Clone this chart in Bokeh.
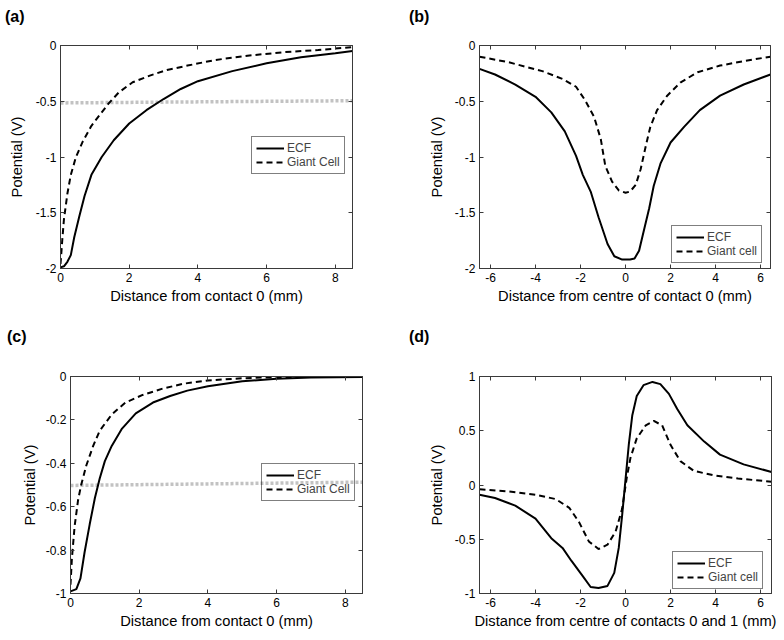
from bokeh.plotting import figure
from bokeh.layouts import column, row
from bokeh.models import (Range1d, LinearAxis, Legend, LegendItem, Div,
                          FixedTicker)
from bokeh.embed import file_html
from bokeh.resources import INLINE

# ---------------- data ----------------
# (a) distance from contact 0
a_ecf_x = [0, 0.1, 0.2, 0.3, 0.4, 0.55, 0.7, 0.9, 1.2, 1.55, 2.0, 2.5, 3.0, 3.5,
           4.0, 5.0, 6.0, 7.0, 8.0, 8.5]
a_ecf_y = [-1.99, -1.98, -1.94, -1.88, -1.72, -1.53, -1.35, -1.16, -1.0, -0.85,
           -0.70, -0.58, -0.48, -0.39, -0.32, -0.23, -0.16, -0.105, -0.07, -0.05]
a_gc_x = [0, 0.02, 0.05, 0.1, 0.2, 0.3, 0.45, 0.65, 0.9, 1.2, 1.4, 1.7, 2.1, 2.6,
          3.1, 3.7, 4.5, 5.5, 6.5, 7.5, 8.5]
a_gc_y = [-1.96, -1.88, -1.75, -1.56, -1.33, -1.16, -1.0, -0.86, -0.72, -0.60,
          -0.52, -0.42, -0.33, -0.27, -0.22, -0.18, -0.13, -0.09, -0.06, -0.04,
          -0.015]
a_ref_x = [0, 8.5]
a_ref_y = [-0.515, -0.495]

# (b) distance from centre of contact 0
b_ecf_x = [-6.49, -5.8, -4.9, -4.0, -3.3, -2.7, -2.2, -1.9, -1.55, -1.2, -0.8,
           -0.5, -0.15, 0.2, 0.4, 0.6, 0.8, 1.05, 1.25, 1.55, 2.0, 2.6, 3.3, 4.2,
           5.25, 6.44]
b_ecf_y = [-0.21, -0.26, -0.35, -0.46, -0.60, -0.77, -0.99, -1.16, -1.31, -1.54,
           -1.78, -1.89, -1.92, -1.92, -1.91, -1.84, -1.67, -1.46, -1.26, -1.06,
           -0.87, -0.73, -0.58, -0.45, -0.35, -0.26]
b_gc_x = [-6.49, -5.2, -3.7, -2.8, -2.2, -1.8, -1.4, -1.1, -0.9, -0.6, -0.3, 0,
          0.2, 0.45, 0.67, 0.9, 1.1, 1.4, 1.85, 2.45, 3.2, 4.2, 5.25, 6.44]
b_gc_y = [-0.10, -0.15, -0.23, -0.30, -0.37, -0.49, -0.64, -0.84, -1.08, -1.22,
          -1.30, -1.32, -1.31, -1.25, -1.11, -0.90, -0.73, -0.58, -0.45, -0.33,
          -0.24, -0.18, -0.14, -0.10]

# (c) distance from contact 0
c_ecf_x = [0, 0.17, 0.29, 0.41, 0.56, 0.71, 0.85, 1.0, 1.2, 1.5, 1.9, 2.4, 2.9,
           3.4, 4.0, 5.0, 6.0, 7.0, 8.5]
c_ecf_y = [-0.99, -0.98, -0.93, -0.81, -0.68, -0.56, -0.47, -0.39, -0.32, -0.24,
           -0.17, -0.12, -0.09, -0.065, -0.045, -0.022, -0.01, -0.005, -0.002]
c_gc_x = [0, 0.04, 0.12, 0.22, 0.31, 0.46, 0.66, 0.85, 1.2, 1.6, 2.1, 2.7, 3.3,
          4.0, 5.0, 6.0, 8.5]
c_gc_y = [-0.96, -0.84, -0.69, -0.57, -0.50, -0.41, -0.32, -0.25, -0.175, -0.12,
          -0.085, -0.055, -0.033, -0.018, -0.008, -0.003, 0]
c_ref_x = [0, 8.5]
c_ref_y = [-0.502, -0.487]

# (d) distance from centre of contacts 0 and 1
d_ecf_x = [-6.49, -5.8, -4.9, -4.0, -3.3, -2.8, -2.4, -1.9, -1.55, -1.2, -0.8,
           -0.5, -0.3, -0.15, 0, 0.15, 0.3, 0.5, 0.8, 1.2, 1.55, 1.93, 2.3,
           2.75, 3.5, 4.2, 5.25, 6.49]
d_ecf_y = [-0.09, -0.12, -0.19, -0.31, -0.49, -0.58, -0.70, -0.84, -0.94, -0.95,
           -0.93, -0.81, -0.58, -0.28, 0.05, 0.38, 0.64, 0.82, 0.92, 0.95, 0.93,
           0.84, 0.70, 0.55, 0.40, 0.28, 0.19, 0.12]
d_gc_x = [-6.49, -5.2, -4.0, -3.1, -2.5, -2.07, -1.63, -1.2, -0.8, -0.44, -0.15,
          0.05, 0.22, 0.5, 0.9, 1.26, 1.63, 2.0, 2.44, 3.04, 3.9, 5.0, 6.49]
d_gc_y = [-0.04, -0.06, -0.09, -0.13, -0.21, -0.34, -0.52, -0.59, -0.55, -0.43,
          -0.22, 0.06, 0.25, 0.43, 0.55, 0.59, 0.55, 0.37, 0.22, 0.13, 0.09,
          0.06, 0.03]

ticks_x_dist = [0, 2, 4, 6, 8]
ticks_x_dist_labels = ["0", "2", "4", "6", "8"]
ticks_x_centre = [-6, -4, -2, 0, 2, 4, 6]
ticks_x_centre_labels = ["-6", "-4", "-2", "0", "2", "4", "6"]
ticks_y_ab = [-2, -1.5, -1, -0.5, 0]
ticks_y_ab_labels = ["-2", "-1.5", "-1", "-0.5", "0"]
ticks_y_c = [-1, -0.8, -0.6, -0.4, -0.2, 0]
ticks_y_c_labels = ["-1", "-0.8", "-0.6", "-0.4", "-0.2", "0"]
ticks_y_d = [-1, -0.5, 0, 0.5, 1]
ticks_y_d_labels = ["-1", "-0.5", "0", "0.5", "1"]

FONT = "Liberation Sans"
AX = "#3a3a3a"
TAG_H = 26


def make_tag(tag, left):
    html = ('<div style="padding:8px 0 0 %dpx;font-family:\'Liberation Sans\','
            'Arial,sans-serif;font-size:16px;font-weight:bold;'
            'line-height:18px;color:black;">%s</div>' % (left, tag))
    return Div(text=html, width=392, height=TAG_H, margin=0)


def make_panel(xr, yr, xt, xtl, yt, ytl, xlabel, borders, leg_loc,
               ecf, gc, gc_label, ref=None, ylab_standoff=8):
    left, right, top, bottom = borders
    p = figure(width=392, height=320 - TAG_H, output_backend="svg",
               toolbar_location=None, x_range=Range1d(*xr),
               y_range=Range1d(*yr), min_border_left=left,
               min_border_right=right, min_border_top=top - TAG_H,
               min_border_bottom=bottom, margin=0)
    p.xgrid.visible = False
    p.ygrid.visible = False
    p.outline_line_color = AX
    p.outline_line_width = 1
    p.background_fill_color = "white"
    p.border_fill_color = "white"

    def style(ax, labels=True):
        ax.major_tick_in = 4
        ax.major_tick_out = 0
        ax.minor_tick_in = 0
        ax.minor_tick_out = 0
        ax.axis_line_color = AX
        ax.major_tick_line_color = AX
        ax.major_label_text_font = FONT
        ax.major_label_text_font_size = "12px"
        ax.major_label_text_color = "black"
        ax.major_label_standoff = 4 if labels else 0
        ax.axis_label_text_font = FONT
        ax.axis_label_text_font_size = "14.7px"
        ax.axis_label_text_font_style = "normal"
        ax.axis_label_text_color = "black"

    p.xaxis.ticker = FixedTicker(ticks=xt)
    p.xaxis.major_label_overrides = dict(zip(xt, xtl))
    p.yaxis.ticker = FixedTicker(ticks=yt)
    p.yaxis.major_label_overrides = dict(zip(yt, ytl))
    style(p.xaxis[0])
    style(p.yaxis[0])
    p.xaxis.axis_label = xlabel
    p.xaxis.axis_label_standoff = 3
    p.yaxis.axis_label = "Potential (V)"
    p.yaxis.axis_label_standoff = ylab_standoff

    top_ax = LinearAxis(ticker=FixedTicker(ticks=xt),
                        major_label_overrides={t: "" for t in xt})
    style(top_ax, labels=False)
    right_ax = LinearAxis(ticker=FixedTicker(ticks=yt),
                          major_label_overrides={t: "" for t in yt})
    style(right_ax, labels=False)
    p.add_layout(top_ax, "above")
    p.add_layout(right_ax, "right")

    if ref is not None:
        p.line(ref[0], ref[1], line_color="#c2c2c2", line_width=3.5,
               line_dash="3 2")
    r1 = p.line(ecf[0], ecf[1], line_color="black", line_width=2)
    r2 = p.line(gc[0], gc[1], line_color="black", line_width=2,
                line_dash="6 4")

    leg = Legend(items=[LegendItem(label="ECF", renderers=[r1]),
                        LegendItem(label=gc_label, renderers=[r2])],
                 location=leg_loc, orientation="vertical")
    leg.label_text_font = FONT
    leg.label_text_font_size = "12px"
    leg.label_height = 14
    leg.glyph_height = 14
    leg.glyph_width = 28
    leg.label_standoff = 3
    leg.padding = 4
    leg.spacing = 0
    leg.margin = 0
    leg.border_line_color = "black"
    leg.border_line_width = 1
    leg.background_fill_alpha = 0
    p.add_layout(leg)
    return p


pa = make_panel((0, 8.5), (-2, 0), ticks_x_dist, ticks_x_dist_labels,
                ticks_y_ab, ticks_y_ab_labels, "Distance from contact 0 (mm)",
                (60, 40, 45, 52), (191, 94), (a_ecf_x, a_ecf_y),
                (a_gc_x, a_gc_y), "Giant Cell", ref=(a_ref_x, a_ref_y),
                ylab_standoff=8)
pb = make_panel((-6.49, 6.44), (-2, 0), ticks_x_centre,
                ticks_x_centre_labels, ticks_y_ab, ticks_y_ab_labels,
                "Distance from centre of contact 0 (mm)", (87, 14, 44, 48),
                (192, 5), (b_ecf_x, b_ecf_y), (b_gc_x, b_gc_y), "Giant cell",
                ylab_standoff=7)
pc = make_panel((0, 8.5), (-1, 0), ticks_x_dist, ticks_x_dist_labels,
                ticks_y_c, ticks_y_c_labels, "Distance from contact 0 (mm)",
                (70, 30, 56, 42), (191, 92), (c_ecf_x, c_ecf_y),
                (c_gc_x, c_gc_y), "Giant Cell", ref=(c_ref_x, c_ref_y),
                ylab_standoff=5)
pd_ = make_panel((-6.49, 6.49), (-1, 1), ticks_x_centre,
                 ticks_x_centre_labels, ticks_y_d, ticks_y_d_labels,
                 "Distance from centre of contacts 0 and 1 (mm)",
                 (87, 13, 48, 47), (193, 4), (d_ecf_x, d_ecf_y),
                 (d_gc_x, d_gc_y), "Giant cell", ylab_standoff=7)

layout = column(row(make_tag("(a)", 5), make_tag("(b)", 17)),
                row(pa, pb),
                row(make_tag("(c)", 7), make_tag("(d)", 17)),
                row(pc, pd_))
open("out.html", "w").write(file_html(layout, INLINE))
